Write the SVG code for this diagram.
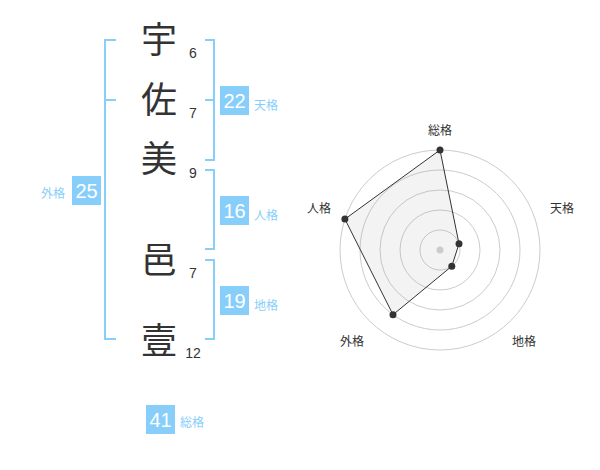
<svg xmlns="http://www.w3.org/2000/svg" width="600" height="470" viewBox="0 0 600 470">
<style>
.ch{font-family:"Noto Sans CJK JP","Noto Sans CJK SC",sans-serif;font-size:36px;fill:#333;text-anchor:middle}
.st{font-family:"Liberation Sans",Arial,sans-serif;font-size:14px;fill:#333;text-anchor:middle}
.br{fill:none;stroke:#87cefa;stroke-width:2}
.bx{fill:#87cefa}
.bn{font-family:"Liberation Sans",Arial,sans-serif;font-size:20px;fill:#fff;text-anchor:middle}
.bl{font-family:"Noto Sans CJK JP","Noto Sans CJK SC",sans-serif;font-size:12px;fill:#87cefa}
.rl{font-family:"Noto Sans CJK JP","Noto Sans CJK SC",sans-serif;font-size:12px;fill:#333;text-anchor:middle}
.ring{fill:none;stroke:#ccc;stroke-width:1}
.pt{fill:#333}
</style>
<rect width="600" height="470" fill="#fff"/>
<g id="chars">
<text class="ch" x="159" y="53">宇</text>
<text class="ch" x="159" y="113">佐</text>
<text class="ch" x="159" y="172">美</text>
<text class="ch" x="159" y="273">邑</text>
<text class="ch" x="159" y="354">壹</text>
</g>
<g id="strokes">
<text class="st" x="193" y="58">6</text>
<text class="st" x="193" y="118">7</text>
<text class="st" x="193" y="178">9</text>
<text class="st" x="193" y="278">7</text>
<text class="st" x="193" y="358">12</text>
</g>
<g id="connectors">
<path class="br" d="M116,40H105V339H116M105,100H116"/>
<path class="br" d="M205,40H214V160H205M205,100H214"/>
<path class="br" d="M205,170H214V249H205"/>
<path class="br" d="M205,260H214V339H205"/>
</g>
<g id="tenkaku">
<rect class="bx" x="220" y="86" width="29" height="29"/>
<text class="bn" x="234.5" y="107.5">22</text>
<text class="bl" x="254" y="109.5">天格</text>
</g>
<g id="jinkaku">
<rect class="bx" x="220" y="196" width="29" height="29"/>
<text class="bn" x="234.5" y="217.5">16</text>
<text class="bl" x="254" y="219.5">人格</text>
</g>
<g id="chikaku">
<rect class="bx" x="220" y="286" width="29" height="29"/>
<text class="bn" x="234.5" y="307.5">19</text>
<text class="bl" x="254" y="309.5">地格</text>
</g>
<g id="gaikaku">
<rect class="bx" x="72" y="176" width="29" height="29"/>
<text class="bn" x="86.5" y="197.5">25</text>
<text class="bl" x="41" y="197.5">外格</text>
</g>
<g id="soukaku">
<rect class="bx" x="146" y="405" width="29" height="29"/>
<text class="bn" x="160.5" y="426.5">41</text>
<text class="bl" x="180" y="426.5">総格</text>
</g>
<g id="radar">
<circle class="ring" cx="440" cy="250" r="20"/>
<circle class="ring" cx="440" cy="250" r="40"/>
<circle class="ring" cx="440" cy="250" r="60"/>
<circle class="ring" cx="440" cy="250" r="80"/>
<circle class="ring" cx="440" cy="250" r="100"/>
<polygon points="440,150 459,243.8 451.8,266.2 393,314.7 344.9,219.1" fill="#999" fill-opacity="0.12" stroke="#333" stroke-width="1"/>
<circle cx="440" cy="250" r="3.5" fill="#ccc"/>
<circle class="pt" cx="440" cy="150" r="3.5"/>
<circle class="pt" cx="459" cy="243.8" r="3.5"/>
<circle class="pt" cx="451.8" cy="266.2" r="3.5"/>
<circle class="pt" cx="393" cy="314.7" r="3.5"/>
<circle class="pt" cx="344.9" cy="219.1" r="3.5"/>
<text class="rl" x="440" y="135">総格</text>
<text class="rl" x="562" y="213">天格</text>
<text class="rl" x="319" y="213">人格</text>
<text class="rl" x="352" y="346">外格</text>
<text class="rl" x="524" y="346">地格</text>
</g>
</svg>
